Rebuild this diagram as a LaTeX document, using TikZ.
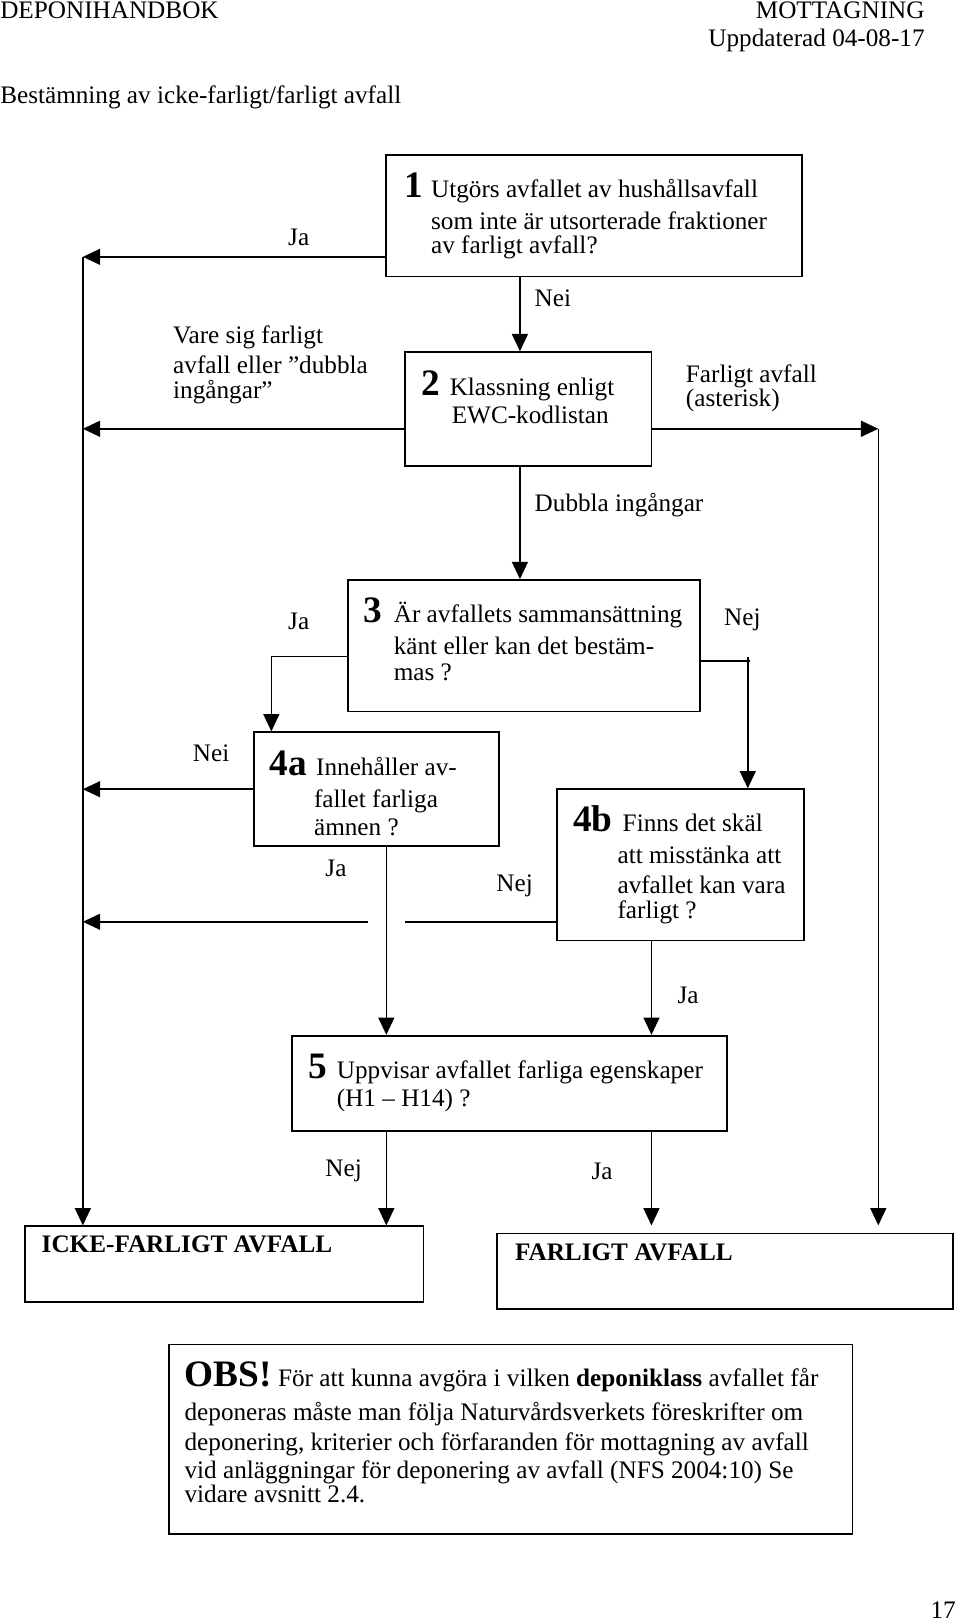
\documentclass[tikz,border=0pt]{standalone}
\usepackage{fontspec}
\setmainfont{Liberation Serif}
\usetikzlibrary{arrows.meta,fit}
\begin{document}
\begin{tikzpicture}[x=0.7767pt,y=-0.7767pt,
  box/.style={draw,line width=1.3pt,inner sep=0pt},
  txt/.style={inner sep=0pt,anchor=base west,font=\fontsize{18.9}{22}\selectfont},
  txtr/.style={inner sep=0pt,anchor=base east,font=\fontsize{18.9}{22}\selectfont},
  num/.style={inner sep=0pt,anchor=base west,font=\fontsize{28}{30}\selectfont\bfseries},
  ln/.style={line width=1.1pt},
  arr/.style={line width=1.1pt,-{Triangle[length=13pt,width=12pt]}}]
\useasboundingbox (0,0) rectangle (927,1568);
% header
\node[txt] (h1) at (0,18) {DEPONIHANDBOK};
\node[txtr] (h2) at (893,18) {MOTTAGNING};
\node[txtr] (h3) at (893,45) {Uppdaterad 04-08-17};
\node[txt] (h4) at (0,100) {Bestämning av icke-farligt/farligt avfall};
% boxes
\node[box,fit={(373,150) (774,267)}] (b1) {};
\node[box,fit={(391,340) (629,450)}] (b2) {};
\node[box,fit={(336,560) (676,687)}] (b3) {};
\node[box,fit={(245,707) (482,817)}] (b4a) {};
\node[box,fit={(538,762) (776,908)}] (b4b) {};
\node[box,fit={(282,1000) (702,1092)}] (b5) {};
\node[box,fit={(24,1184) (409,1257)}] (ick) {};
\node[box,fit={(480,1191) (920,1264)}] (far) {};
\node[box,fit={(163,1298) (823,1481)}] (obs) {};
% box texts
\node[num] (n1) at (390,190.5) {1};
\node[txt] (t1a) at (416,190.5) {Utgörs avfallet av hushållsavfall};
\node[txt] (t1b) at (416,222) {som inte är utsorterade fraktioner};
\node[txt] (t1c) at (416,244.6) {av farligt avfall?};
\node[num] (n2) at (407,381.4) {2};
\node[txt] (t2a) at (434,381.4) {Klassning enligt};
\node[txt] (t2b) at (436,408.8) {EWC-kodlistan};
\node[num] (n3) at (351,601.3) {3};
\node[txt] (t3a) at (380,601.3) {Är avfallets sammansättning};
\node[txt] (t3b) at (380,631.5) {känt eller kan det bestäm-};
\node[txt] (t3c) at (380,656.6) {mas ?};
\node[num] (n4a) at (260,748.4) {4a};
\node[txt] (t4aa) at (305,748.4) {Innehåller av-};
\node[txt] (t4ab) at (303,779.6) {fallet farliga};
\node[txt] (t4ac) at (303,806.3) {ämnen ?};
\node[num] (n4b) at (553,803.1) {4b};
\node[txt] (t4ba) at (601,803.1) {Finns det skäl};
\node[txt] (t4bb) at (596,833.7) {att misstänka att};
\node[txt] (t4bc) at (596,862.6) {avfallet kan vara};
\node[txt] (t4bd) at (596,886.8) {farligt ?};
\node[num] (n5) at (298,1041.3) {5};
\node[txt] (t5a) at (325,1041.3) {Uppvisar avfallet farliga egenskaper};
\node[txt] (t5b) at (325,1068.6) {(H1 – H14) ?};
\node[txt,font=\fontsize{18.9}{22}\selectfont\bfseries] (tick) at (40,1209.6) {ICKE-FARLIGT AVFALL};
\node[txt,font=\fontsize{18.9}{22}\selectfont\bfseries] (tfar) at (497,1216.7) {FARLIGT AVFALL};
\node[txt] (o1) at (178,1339) {{\fontsize{28}{30}\selectfont\bfseries OBS!} För att kunna avgöra i vilken \textbf{deponiklass} avfallet får};
\node[txt] (o2) at (178,1371.8) {deponeras måste man följa Naturvårdsverkets föreskrifter om};
\node[txt] (o3) at (178,1400.2) {deponering, kriterier och förfaranden för mottagning av avfall};
\node[txt] (o4) at (178,1427.5) {vid anläggningar för deponering av avfall (NFS 2004:10) Se};
\node[txt] (o5) at (178,1451) {vidare avsnitt 2.4.};
% labels
\node[txt] (l1) at (278,236.6) {Ja};
\node[txt] (l2) at (516,295.5) {Nei};
\node[txt] (l3a) at (167,332) {Vare sig farligt};
\node[txt] (l3b) at (167,360.5) {avfall eller ”dubbla};
\node[txt] (l3c) at (167,384.6) {ingångar”};
\node[txt] (l4a) at (662,369.5) {Farligt avfall};
\node[txt] (l4b) at (662,392.7) {(asterisk)};
\node[txt] (l5) at (516,494) {Dubbla ingångar};
\node[txt] (l6) at (278,607.7) {Ja};
\node[txt] (l7) at (699,603.5) {Nej};
\node[txt] (l8) at (186,735.5) {Nei};
\node[txt] (l9) at (314,845.9) {Ja};
\node[txt] (l10) at (479,861) {Nej};
\node[txt] (l11) at (654,968.8) {Ja};
\node[txt] (l12) at (314,1136.2) {Nej};
\node[txt] (l13) at (571,1138.8) {Ja};
\node[txtr] (pg) at (923,1563) {17};
% coordinates
\coordinate (La) at (80,248);
\coordinate (Lb) at (80,414);
\coordinate (Lc) at (80,762);
\coordinate (Ld) at (80,890);
\coordinate (Ra) at (848,414);
\coordinate (x502) at (502,0);
\coordinate (J3) at (262,634);
\coordinate (N3) at (724,638);
\coordinate (N3t) at (722,634);
\coordinate (x373) at (373,0);
\coordinate (x629) at (629,0);
\coordinate (G1) at (391,890);
\coordinate (G2) at (355,890);
% connectors
\draw[arr] (b1.west |- La) -- (La);
\draw[arr] (La) -- (ick.north -| La);
\draw[arr] (b1.south -| x502) -- (b2.north -| x502);
\draw[arr] (b2.west |- Lb) -- (Lb);
\draw[arr] (b2.east |- Ra) -- (Ra);
\draw[arr] (Ra) -- (ick.north -| Ra);
\draw[arr] (b2.south -| x502) -- (b3.north -| x502);
\draw[arr] (b3.west |- J3) -- (J3) -- (b4a.north -| J3);
\draw[ln] (b3.east |- N3) -- (N3);
\draw[arr] (N3t) -- (b4b.north -| N3t);
\draw[arr] (b4a.west |- Lc) -- (Lc);
\draw[arr] (b4a.south -| x373) -- (b5.north -| x373);
\draw[ln] (b4b.west |- G1) -- (G1);
\draw[arr] (G2) -- (Ld);
\draw[arr] (b4b.south -| x629) -- (b5.north -| x629);
\draw[arr] (b5.south -| x373) -- (ick.north -| x373);
\draw[arr] (b5.south -| x629) -- (ick.north -| x629);
\end{tikzpicture}
\end{document}
